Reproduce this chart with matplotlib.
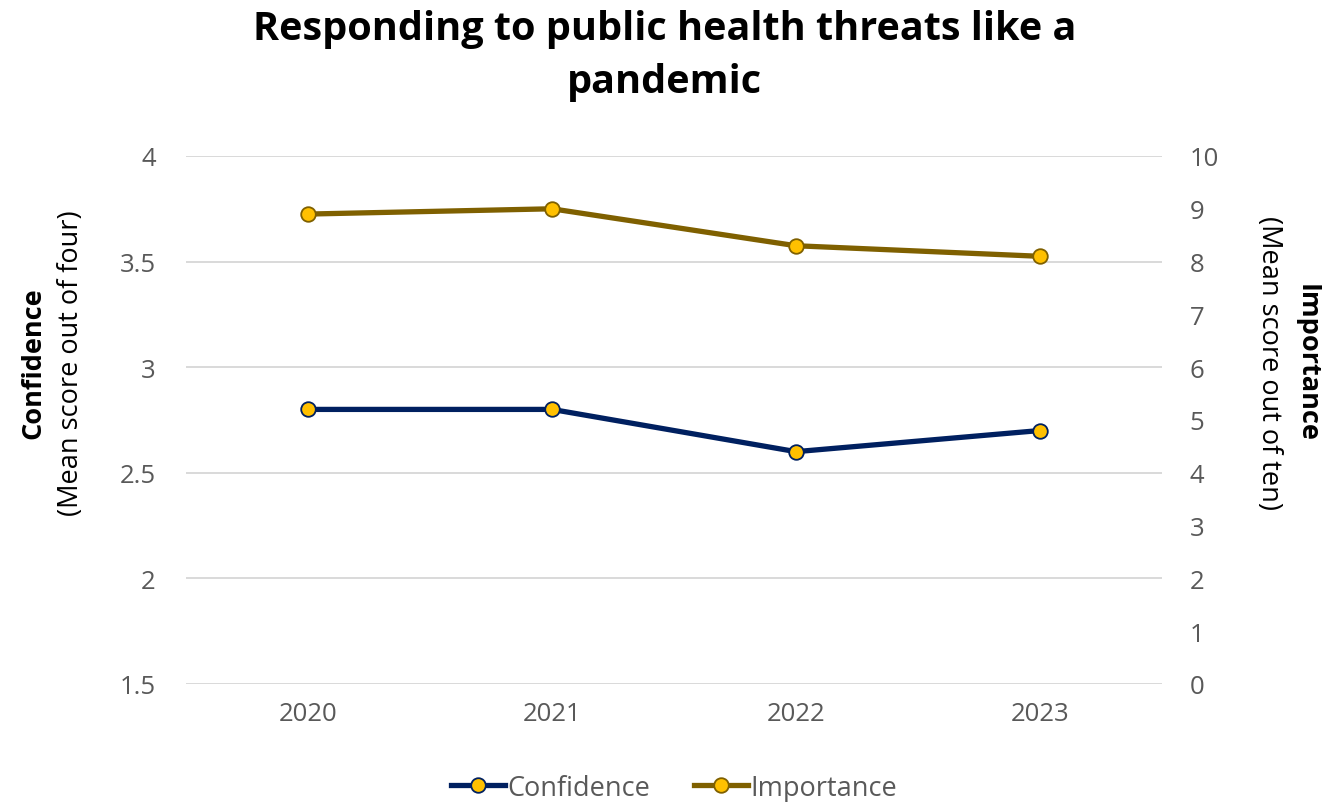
import matplotlib
matplotlib.use("Agg")
from matplotlib import pyplot as plt
from matplotlib.lines import Line2D

plt.rcParams['font.family'] = ['Open Sans', 'DejaVu Sans']

years = ['2020', '2021', '2022', '2023']
confidence = [2.8, 2.8, 2.6, 2.7]
importance = [8.9, 9.0, 8.3, 8.1]

navy = '#002060'
gold = '#7F6000'
marker_face = '#FFC000'
grey_txt = '#595959'
lw = 3.8
ms = 10.5

fig = plt.figure(figsize=(13.4, 8.03), dpi=100)
ax = fig.add_axes([0.139, 0.147, 0.728, 0.6575])
ax2 = ax.twinx()

x = list(range(len(years)))
ax.plot(x, confidence, color=navy, linewidth=lw, marker='o', ms=ms,
        mfc=marker_face, mec=navy, mew=1.3, zorder=3)
ax2.plot(x, importance, color=gold, linewidth=lw, marker='o', ms=ms,
         mfc=marker_face, mec=gold, mew=1.3, zorder=3)

ax.set_xlim(-0.5, 3.5)
ax.set_ylim(1.5, 4)
ax.set_yticks([1.5, 2, 2.5, 3, 3.5, 4])
ax.set_yticklabels(['1.5', '2', '2.5', '3', '3.5', '4'])
ax2.set_ylim(0, 10)
ax2.set_yticks(range(0, 11))
ax.set_xticks(x)
ax.set_xticklabels(years)

ax.grid(axis='y', color='#d9d9d9', linewidth=1.4)
ax.set_axisbelow(True)
for a in (ax, ax2):
    for s in a.spines.values():
        s.set_visible(False)
    a.tick_params(length=0, labelsize=18.5, labelcolor=grey_txt)
ax.tick_params(axis='y', pad=22)
ax2.tick_params(axis='y', pad=20)
ax.tick_params(axis='x', pad=12)

fig.text(0.496, 0.93, 'Responding to public health threats like a\npandemic',
         ha='center', va='center', fontsize=28.5, fontweight='bold',
         linespacing=1.45)

fig.text(0.025, 0.548, 'Confidence', rotation=90, ha='center', va='center',
         fontsize=19.5, fontweight='bold')
fig.text(0.053, 0.548, '(Mean score out of four)', rotation=90, ha='center',
         va='center', fontsize=19.5)
fig.text(0.975, 0.548, 'Importance', rotation=270, ha='center', va='center',
         fontsize=19.5, fontweight='bold')
fig.text(0.947, 0.548, '(Mean score out of ten)', rotation=270, ha='center',
         va='center', fontsize=19.5)

handles = [
    Line2D([], [], color=navy, linewidth=lw, marker='o', ms=ms,
           mfc=marker_face, mec=navy, mew=1.3),
    Line2D([], [], color=gold, linewidth=lw, marker='o', ms=ms,
           mfc=marker_face, mec=gold, mew=1.3),
]
leg = fig.legend(handles, ['Confidence', 'Importance'], loc='center',
                 bbox_to_anchor=(0.503, 0.018), ncol=2, frameon=False,
                 fontsize=19.5, handlelength=2.0, handletextpad=0.1,
                 columnspacing=1.6, borderpad=0)
for t in leg.get_texts():
    t.set_color(grey_txt)

fig.savefig('out.png', dpi=100)
